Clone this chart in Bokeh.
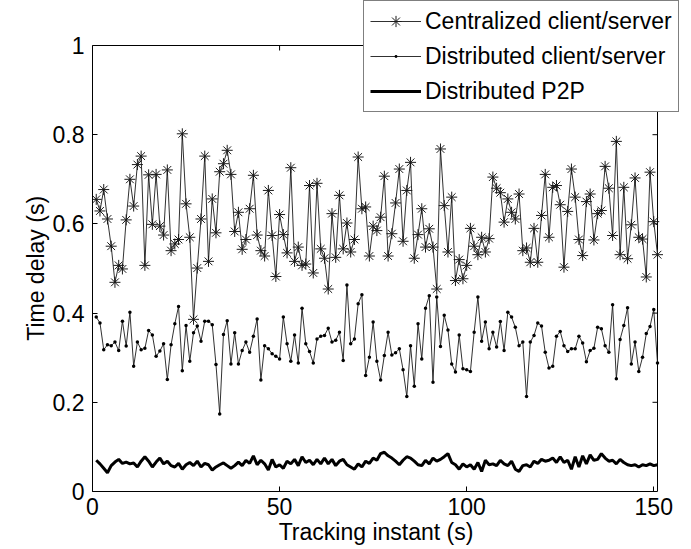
from bokeh.plotting import figure
from bokeh.models import Range1d, FixedTicker, Legend, LegendItem, ColumnDataSource
from bokeh.embed import file_html
from bokeh.resources import INLINE

centralized = [
    0.655, 0.629, 0.677, 0.611, 0.550, 0.469, 0.507, 0.499, 0.609, 0.700, 0.640, 0.733, 0.752, 0.507, 0.710, 0.599, 0.711, 0.595, 0.575, 0.721, 0.540, 0.555, 0.565, 0.802, 0.645,
    0.570, 0.386, 0.501, 0.611, 0.752, 0.516, 0.656, 0.580, 0.717, 0.735, 0.765, 0.711, 0.583, 0.626, 0.543, 0.565, 0.634, 0.709, 0.575, 0.540, 0.528, 0.675, 0.574, 0.482, 0.621,
    0.576, 0.535, 0.726, 0.516, 0.548, 0.507, 0.510, 0.686, 0.490, 0.691, 0.544, 0.523, 0.454, 0.623, 0.525, 0.664, 0.544, 0.602, 0.537, 0.565, 0.750, 0.634, 0.638, 0.528, 0.595,
    0.585, 0.615, 0.707, 0.528, 0.578, 0.647, 0.723, 0.561, 0.675, 0.738, 0.523, 0.576, 0.634, 0.548, 0.589, 0.548, 0.454, 0.768, 0.641, 0.537, 0.660, 0.473, 0.520, 0.477, 0.507,
    0.590, 0.550, 0.531, 0.570, 0.537, 0.567, 0.705, 0.680, 0.670, 0.604, 0.656, 0.626, 0.611, 0.667, 0.540, 0.546, 0.514, 0.590, 0.514, 0.619, 0.711, 0.570, 0.682, 0.686, 0.643,
    0.503, 0.628, 0.723, 0.660, 0.565, 0.529, 0.650, 0.667, 0.564, 0.623, 0.630, 0.729, 0.680, 0.574, 0.785, 0.531, 0.682, 0.522, 0.598, 0.703, 0.570, 0.566, 0.481, 0.716, 0.605, 0.531,
]

distributed_cs = [
    0.391, 0.378, 0.318, 0.329, 0.327, 0.335, 0.316, 0.382, 0.326, 0.402, 0.281, 0.335, 0.318, 0.321, 0.361, 0.351, 0.303, 0.315, 0.331, 0.251, 0.329, 0.376, 0.415, 0.271, 0.372,
    0.292, 0.356, 0.371, 0.337, 0.382, 0.382, 0.374, 0.285, 0.174, 0.352, 0.383, 0.286, 0.356, 0.286, 0.316, 0.335, 0.312, 0.348, 0.387, 0.250, 0.327, 0.320, 0.309, 0.303, 0.297,
    0.391, 0.331, 0.292, 0.351, 0.288, 0.411, 0.331, 0.314, 0.288, 0.342, 0.348, 0.350, 0.366, 0.335, 0.339, 0.357, 0.294, 0.463, 0.331, 0.342, 0.421, 0.441, 0.260, 0.301, 0.380,
    0.292, 0.250, 0.305, 0.357, 0.306, 0.311, 0.320, 0.273, 0.213, 0.327, 0.236, 0.376, 0.297, 0.411, 0.439, 0.245, 0.436, 0.325, 0.395, 0.362, 0.286, 0.268, 0.351, 0.275, 0.273,
    0.269, 0.357, 0.436, 0.337, 0.380, 0.320, 0.357, 0.324, 0.381, 0.316, 0.402, 0.391, 0.368, 0.327, 0.335, 0.213, 0.335, 0.350, 0.378, 0.371, 0.312, 0.277, 0.281, 0.348, 0.359,
    0.327, 0.314, 0.320, 0.320, 0.348, 0.333, 0.291, 0.316, 0.321, 0.368, 0.365, 0.327, 0.312, 0.419, 0.253, 0.341, 0.372, 0.412, 0.286, 0.335, 0.269, 0.301, 0.354, 0.370, 0.408, 0.288,
]

distributed_p2p = [
    0.070, 0.062, 0.052, 0.042, 0.058, 0.066, 0.072, 0.063, 0.066, 0.062, 0.064, 0.055, 0.068, 0.078, 0.068, 0.055, 0.066, 0.075, 0.062, 0.068, 0.058, 0.055, 0.063, 0.050, 0.060,
    0.065, 0.058, 0.068, 0.055, 0.063, 0.060, 0.048, 0.055, 0.060, 0.064, 0.058, 0.052, 0.058, 0.066, 0.058, 0.070, 0.063, 0.080, 0.060, 0.070, 0.062, 0.048, 0.072,
    0.055, 0.060, 0.052, 0.068, 0.062, 0.072, 0.058, 0.078, 0.065, 0.070, 0.060, 0.072, 0.062, 0.075, 0.062, 0.072, 0.058, 0.068, 0.072, 0.060, 0.055, 0.050, 0.062, 0.055, 0.068, 0.063, 0.075, 0.070,
    0.085, 0.088, 0.080, 0.075, 0.068, 0.060, 0.070, 0.078, 0.075, 0.068, 0.060, 0.058, 0.070, 0.062, 0.075, 0.068, 0.072, 0.078, 0.085, 0.065, 0.060, 0.050, 0.062, 0.055, 0.060,
    0.050, 0.065, 0.045, 0.070, 0.060, 0.062, 0.058, 0.070, 0.062, 0.058, 0.068, 0.050, 0.045, 0.058, 0.060, 0.055, 0.068, 0.063, 0.072, 0.068, 0.070, 0.075, 0.065, 0.078, 0.065,
    0.070, 0.050, 0.078, 0.055, 0.080, 0.062, 0.082, 0.070, 0.072, 0.085, 0.075, 0.068, 0.070, 0.062, 0.072, 0.065, 0.060, 0.058, 0.060, 0.055, 0.060, 0.058, 0.062, 0.058, 0.060,
]

x_ticks = [0, 50, 100, 150]
y_ticks = [0, 0.2, 0.4, 0.6, 0.8, 1]
y_tick_labels = {0: "0", 0.2: "0.2", 0.4: "0.4", 0.6: "0.6", 0.8: "0.8", 1: "1"}
x_lim = (0, 151)
y_lim = (0, 1)

instants = list(range(1, len(centralized) + 1))
src = ColumnDataSource(dict(x=instants, c=centralized, d=distributed_cs, p=distributed_p2p))

# layout (pixels)
W, H = 691, 549
LEFT, BOTTOM = 92, 58
BOX_W, BOX_H = 565, 446          # size of the axes box
FRAME_W, FRAME_H = W - LEFT, H - BOTTOM
px_x = BOX_W / (x_lim[1] - x_lim[0])
px_y = BOX_H / (y_lim[1] - y_lim[0])
TICK = 5

FONT = "Liberation Sans"
FS = "23px"
NBSP = "\u00a0"

p = figure(width=W, height=H, output_backend="svg", toolbar_location=None,
           x_range=Range1d(x_lim[0], x_lim[0] + FRAME_W / px_x),
           y_range=Range1d(y_lim[0], y_lim[0] + FRAME_H / px_y),
           min_border_left=LEFT, min_border_right=0, min_border_top=0, min_border_bottom=BOTTOM)
p.background_fill_color = "white"
p.border_fill_color = "white"
p.outline_line_color = None
p.xgrid.visible = False
p.ygrid.visible = False

for ax in (p.xaxis[0], p.yaxis[0]):
    ax.axis_line_color = "black"
    ax.axis_line_width = 1
    ax.major_tick_line_color = "black"
    ax.major_tick_in = TICK
    ax.major_tick_out = 0
    ax.minor_tick_line_color = None
    ax.major_label_text_font = FONT
    ax.major_label_text_font_size = FS
    ax.major_label_text_color = "black"
    ax.axis_label_text_font = FONT
    ax.axis_label_text_font_size = FS
    ax.axis_label_text_font_style = "normal"
    ax.axis_label_text_color = "black"

p.xaxis.ticker = FixedTicker(ticks=x_ticks)
p.yaxis.ticker = FixedTicker(ticks=y_ticks)
p.xaxis.bounds = x_lim
p.yaxis.bounds = y_lim
p.yaxis.major_label_overrides = y_tick_labels
# labels are centred on the frame; trailing no-break spaces re-centre them on the axes box
p.xaxis.axis_label = "Tracking instant (s)" + NBSP * 5
p.yaxis.axis_label = "Time delay (s)" + NBSP * 7
p.xaxis.major_label_standoff = 6
p.xaxis.axis_label_standoff = 1
p.yaxis.major_label_standoff = 8
p.yaxis.axis_label_standoff = 1

# top and right edges of the axes box, with inward ticks (MATLAB "box on")
p.segment(x0=[x_lim[0], x_lim[1]], y0=[y_lim[1], y_lim[0]], x1=[x_lim[1], x_lim[1]], y1=[y_lim[1], y_lim[1]],
          line_color="black", line_width=1)
p.segment(x0=x_ticks, y0=[y_lim[1]] * len(x_ticks), x1=x_ticks, y1=[y_lim[1] - TICK / px_y] * len(x_ticks),
          line_color="black", line_width=1)
p.segment(x0=[x_lim[1]] * len(y_ticks), y0=y_ticks, x1=[x_lim[1] - TICK / px_x] * len(y_ticks), y1=y_ticks,
          line_color="black", line_width=1)

r_c_line = p.line("x", "c", source=src, line_color="#1a1a1a", line_width=0.9)
r_c_mark = p.scatter("x", "c", source=src, marker="asterisk", size=11, line_color="#1a1a1a", line_width=1)
r_d_line = p.line("x", "d", source=src, line_color="#1a1a1a", line_width=0.9)
r_d_mark = p.scatter("x", "d", source=src, marker="dot", size=14, fill_color="black", line_color="black")
r_p_line = p.line("x", "p", source=src, line_color="black", line_width=3)

legend = Legend(items=[
    LegendItem(label="Centralized client/server", renderers=[r_c_line, r_c_mark]),
    LegendItem(label="Distributed client/server", renderers=[r_d_line, r_d_mark]),
    LegendItem(label="Distributed P2P", renderers=[r_p_line]),
], location=(363 - LEFT, FRAME_H - 112))
legend.border_line_color = "black"
legend.border_line_width = 1
legend.background_fill_color = "white"
legend.background_fill_alpha = 1
legend.label_text_font = FONT
legend.label_text_font_size = FS
legend.label_text_color = "black"
legend.glyph_width = 51
legend.glyph_height = 28
legend.label_standoff = 4
legend.label_height = 28
legend.spacing = 7
legend.padding = 6
legend.margin = 0
p.add_layout(legend, "center")

open("out.html", "w").write(file_html(p, INLINE))
